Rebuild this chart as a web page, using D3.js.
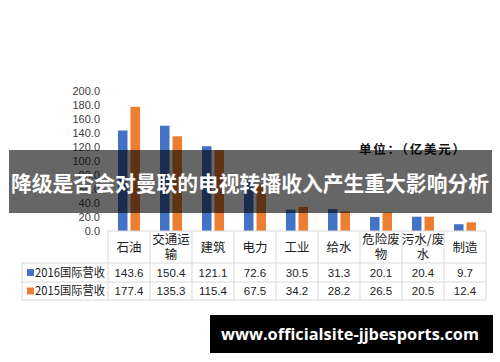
<!DOCTYPE html>
<html>
<head>
<meta charset="utf-8">
<script src="https://cdn.jsdelivr.net/npm/d3@7/dist/d3.min.js"></script>
<style>
  html, body { margin: 0; padding: 0; background: #fff; }
  svg { display: block; font-family: "Noto Sans CJK SC", "Noto Sans", sans-serif; }
</style>
</head>
<body>
<svg id="chart" width="500" height="362"></svg>
<script>
// 行业类别
const categories = ['石油', '交通运输', '建筑', '电力', '工业', '给水', '危险废物', '污水/废水', '制造'];
// 类别标签换行
const categoryLines = [['石油'], ['交通运', '输'], ['建筑'], ['电力'], ['工业'], ['给水'], ['危险废', '物'], ['污水/废', '水'], ['制造']];
const seriesNames = ['2016国际营收', '2015国际营收'];
const values2016 = [143.6, 150.4, 121.1, 72.6, 30.5, 31.3, 20.1, 20.4, 9.7];
const values2015 = [177.4, 135.3, 115.4, 67.5, 34.2, 28.2, 26.5, 20.5, 12.4];
const yTicks = [0, 20, 40, 60, 80, 100, 120, 140, 160, 180, 200];

const colors = ['#4472C4', '#ED7D31'];
const gridColor = '#d9d9d9';
const svg = d3.select('#chart');

const x = d3.scaleBand().domain(categories).range([108, 486]).paddingInner(0).paddingOuter(0);
const xs = d3.scaleBand().domain(seriesNames).range([-11, 11]).paddingInner(0.24);
const y = d3.scaleLinear().domain([0, 200]).range([231, 91]);

const series = [values2016, values2015];

// 柱子
series.forEach((vals, si) => {
  svg.append('g')
    .selectAll('rect')
    .data(vals)
    .enter()
    .append('rect')
    .attr('x', (d, i) => x(categories[i]) + x.bandwidth() / 2 + xs(seriesNames[si]))
    .attr('y', d => y(d))
    .attr('width', xs.bandwidth())
    .attr('height', d => y(0) - y(d))
    .attr('fill', colors[si]);
});

// y 轴刻度
svg.append('g')
  .selectAll('text')
  .data(yTicks)
  .enter()
  .append('text')
  .attr('x', 100)
  .attr('y', d => y(d))
  .attr('dy', '0.35em')
  .attr('text-anchor', 'end')
  .attr('fill', '#404040')
  .style('font-size', '11px')
  .style('font-family', '"Liberation Sans", "Noto Sans", sans-serif')
  .text(d => d3.format('.1f')(d));

// 数据表格线
const rowY = [231, 263, 282, 300];
const tableLeft = 22, tableRight = 486;
const grid = svg.append('g').attr('stroke', gridColor).attr('stroke-width', 1);
grid.append('line').attr('x1', 108).attr('x2', tableRight).attr('y1', rowY[0]).attr('y2', rowY[0]);
rowY.slice(1).forEach(ry => {
  grid.append('line').attr('x1', tableLeft).attr('x2', tableRight).attr('y1', ry).attr('y2', ry);
});
grid.append('line').attr('x1', tableLeft).attr('x2', tableLeft).attr('y1', rowY[1]).attr('y2', rowY[3]);
categories.forEach(c => {
  grid.append('line').attr('x1', x(c)).attr('x2', x(c)).attr('y1', rowY[0]).attr('y2', rowY[3]);
});
grid.append('line').attr('x1', tableRight).attr('x2', tableRight).attr('y1', rowY[0]).attr('y2', rowY[3]);

// 类别标签
categoryLines.forEach((lines, i) => {
  const cx = x(categories[i]) + x.bandwidth() / 2;
  const cy = (rowY[0] + rowY[1]) / 2;
  const lh = 15;
  lines.forEach((t, li) => {
    svg.append('text')
      .attr('x', cx)
      .attr('y', cy + (li - (lines.length - 1) / 2) * lh)
      .attr('dy', '0.36em')
      .attr('text-anchor', 'middle')
      .attr('fill', '#222')
      .style('font-size', '12.5px')
      .text(t);
  });
});

// 数值行 + 图例
series.forEach((vals, si) => {
  const cy = (rowY[si + 1] + rowY[si + 2]) / 2;
  svg.append('rect')
    .attr('x', 27).attr('y', cy - 3.5)
    .attr('width', 7).attr('height', 7)
    .attr('fill', colors[si]);
  svg.append('text')
    .attr('x', 35).attr('y', cy).attr('dy', '0.36em')
    .attr('fill', '#222')
    .style('font-size', '12px')
    .attr('textLength', 70)
    .attr('lengthAdjust', 'spacingAndGlyphs')
    .text(seriesNames[si]);
  svg.append('g')
    .selectAll('text')
    .data(vals)
    .enter()
    .append('text')
    .attr('x', (d, i) => x(categories[i]) + x.bandwidth() / 2)
    .attr('y', cy)
    .attr('dy', '0.36em')
    .attr('text-anchor', 'middle')
    .attr('fill', '#222')
    .style('font-size', '11.5px')
    .style('font-family', '"Liberation Sans", "Noto Sans", sans-serif')
    .text(d => d3.format('.1f')(d));
});

// 单位
svg.append('text')
  .attr('x', 359).attr('y', 149).attr('dy', '0.36em')
  .attr('fill', '#111')
  .style('font-size', '12.5px')
  .style('font-weight', 'bold')
  .attr('textLength', 106)
  .attr('lengthAdjust', 'spacing')
  .text('单位：（亿美元）');

// 标题横幅
svg.append('rect')
  .attr('x', 9).attr('y', 150)
  .attr('width', 483).attr('height', 63)
  .attr('fill', '#000').attr('fill-opacity', 0.6);
svg.append('text')
  .attr('x', 250).attr('y', 183).attr('dy', '0.36em')
  .attr('text-anchor', 'middle')
  .attr('fill', '#fff')
  .style('font-size', '21px')
  .style('font-weight', 'bold')
  .attr('textLength', 478)
  .attr('lengthAdjust', 'spacingAndGlyphs')
  .text('降级是否会对曼联的电视转播收入产生重大影响分析');

// 网址水印
svg.append('rect')
  .attr('x', 210).attr('y', 315)
  .attr('width', 283).attr('height', 38)
  .attr('fill', '#000');
svg.append('text')
  .attr('x', 350).attr('y', 334).attr('dy', '0.36em')
  .attr('text-anchor', 'middle')
  .attr('fill', '#fff')
  .style('font-size', '16px')
  .style('font-weight', 'bold')
  .style('font-family', '"Open Sans", "DejaVu Sans", sans-serif')
  .attr('textLength', 258)
  .attr('lengthAdjust', 'spacingAndGlyphs')
  .text('www.officialsite-jjbesports.com');
</script>
</body>
</html>
